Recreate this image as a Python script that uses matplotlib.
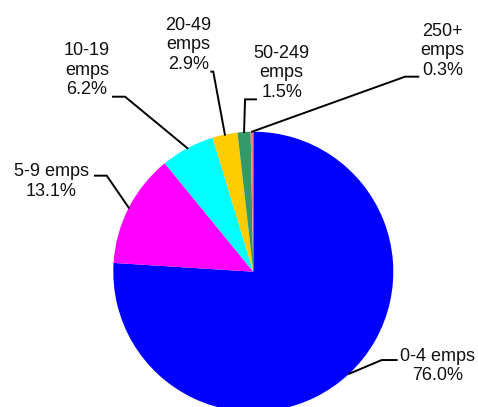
import numpy as np
import matplotlib
matplotlib.use('Agg')
import matplotlib.pyplot as plt

# data
labels = ['0-4 emps', '5-9 emps', '10-19\nemps', '20-49\nemps', '50-249\nemps', '250+\nemps']
values = [76.0, 13.1, 6.2, 2.9, 1.5, 0.3]
colors = ['#0000FF', '#FF00FF', '#00FFFF', '#FFCC00', '#339966', '#FF8080']

# label layout (data units, pie radius = 1): text centre, elbow, line end
text_pos = [(1.316, -0.675), (-1.443, 0.645), (-1.188, 1.44), (-0.464, 1.622), (0.203, 1.42), (1.351, 1.578)]
elbows = [(0.917, -0.631), (-1.047, 0.686), (-0.916, 1.25), (-0.286, 1.429), (-0.059, 1.231), (1.084, 1.393)]
ends = [(1.024, -0.631), (-1.131, 0.686), (-1.002, 1.25), (-0.300, 1.429), (0.019, 1.231), (1.179, 1.393)]

plt.rcParams['font.family'] = ['Liberation Sans', 'DejaVu Sans']

fig = plt.figure(figsize=(4.78, 4.07), dpi=100)
ax = fig.add_axes([0, 0, 1, 1])
wedges, _ = ax.pie(values, colors=colors, startangle=90, counterclock=False,
                   radius=1, wedgeprops=dict(linewidth=0, edgecolor='none'))

for i, w in enumerate(wedges):
    mid = np.deg2rad((w.theta1 + w.theta2) / 2)
    ax_pt = (np.cos(mid), np.sin(mid))
    ax.plot([ax_pt[0], elbows[i][0], ends[i][0]], [ax_pt[1], elbows[i][1], ends[i][1]],
            color='black', lw=1.4, solid_joinstyle='miter', clip_on=False)
    txt = labels[i] + '\n' + f'{values[i]:.1f}%'
    ax.text(text_pos[i][0], text_pos[i][1], txt, ha='center', va='center',
            multialignment='center', fontsize=13, color='#111111')

ax.set_xlim((0 - 253.3) / 140, (478 - 253.3) / 140)
ax.set_ylim((271.7 - 407) / 140, 271.7 / 140)
ax.set_aspect('equal')
ax.axis('off')

fig.savefig('out.png', dpi=100)
